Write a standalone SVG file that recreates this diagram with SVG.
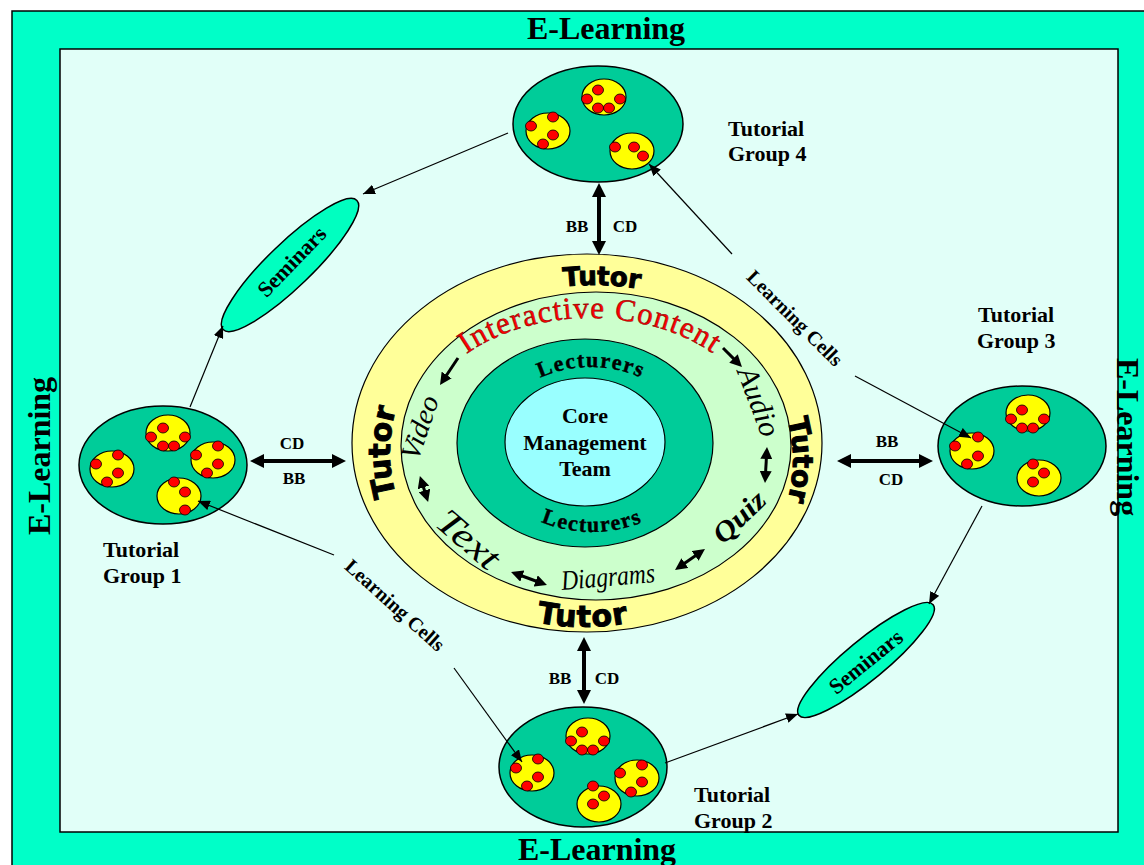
<svg xmlns="http://www.w3.org/2000/svg" width="1144" height="865" viewBox="0 0 1144 865">
<defs>
<style>
.lbl{font-family:"Liberation Serif","Times New Roman",serif;font-weight:bold;font-size:22px;fill:#000;}
.el{font-family:"Liberation Serif","Times New Roman",serif;font-weight:bold;font-size:32px;fill:#000;text-anchor:middle;}
.bc{font-family:"Liberation Serif","Times New Roman",serif;font-weight:bold;font-size:17px;fill:#000;text-anchor:middle;}
.lc{font-family:"Liberation Serif","Times New Roman",serif;font-weight:bold;font-size:20px;fill:#000;text-anchor:middle;}
.sm{font-family:"Liberation Serif","Times New Roman",serif;font-weight:bold;font-size:22px;fill:#000;text-anchor:middle;}
.core{font-family:"Liberation Serif","Times New Roman",serif;font-weight:bold;font-size:22px;fill:#000;text-anchor:middle;}
.grp{fill:#00CC99;stroke:#000;stroke-width:1.5;}
.cell{fill:#FFFF00;stroke:#000;stroke-width:1.2;}
.dot{fill:#FF0000;stroke:#000;stroke-width:0.8;}
.sem{fill:#00FFC0;stroke:#000;stroke-width:1.5;}
.thin{fill:none;stroke:#000;stroke-width:1.2;}
.thick{fill:none;stroke:#000;stroke-width:4;}
.mid{fill:none;stroke:#000;stroke-width:3;}
.tutor{font-family:"DejaVu Sans",sans-serif;font-weight:bold;fill:#000;stroke:#000;stroke-width:1;text-anchor:middle;}
.lect{font-family:"Liberation Serif","Times New Roman",serif;font-weight:bold;font-size:22px;letter-spacing:1.5px;fill:#000;stroke:#000;stroke-width:0.4;text-anchor:middle;}
.script{font-family:"Liberation Serif","Times New Roman",serif;font-style:italic;fill:#000;text-anchor:middle;}
.ic{font-family:"Liberation Serif","Times New Roman",serif;font-size:31px;letter-spacing:1.2px;fill:#FF0000;stroke:#800000;stroke-width:0.5;text-anchor:middle;}
</style>
<ellipse id="dot" class="dot" cx="0" cy="0" rx="5.5" ry="5"/>
<ellipse id="cell" class="cell" cx="0" cy="0" rx="22" ry="18"/>
<marker id="ahThin" viewBox="0 0 12 10" refX="12" refY="5" markerWidth="12" markerHeight="10" markerUnits="userSpaceOnUse" orient="auto-start-reverse"><path d="M0,0 L12,5 L0,10 z" fill="#000"/></marker>
<marker id="ahBig" viewBox="0 0 14 14" refX="4" refY="7" markerWidth="14" markerHeight="14" markerUnits="userSpaceOnUse" orient="auto-start-reverse"><path d="M0,0 L14,7 L0,14 z" fill="#000"/></marker>
<marker id="ahSm" viewBox="0 0 12 12" refX="3" refY="6" markerWidth="12" markerHeight="12" markerUnits="userSpaceOnUse" orient="auto-start-reverse"><path d="M0,0 L12,6 L0,12 z" fill="#000"/></marker>
<path id="pTutTop" d="M383,443 A210,158 0 0,1 803,443"/>
<path id="pTutRight" d="M587,280 A206,180 0 0,1 587,640"/>
<path id="pTutLeft" d="M587,632 A197,180 0 0,1 587,272"/>
<path id="pTutBot" d="M373,443 A210,184 0 0,0 793,443"/>
<path id="pIC" d="M412,446 A178,128 0 0,1 768,446"/>
<path id="pLecTop" d="M493,443 A98,76 0 0,1 689,443"/>
<path id="pLecBot" d="M482,443 A110,89 0 0,0 702,443"/>
</defs>

<g id="frame">
<rect x="12" y="11" width="1160" height="880" fill="#00FFC8" stroke="#000" stroke-width="1.5"/>
<rect x="60" y="49" width="1058" height="783" fill="#E1FFF8" stroke="#000" stroke-width="1.5"/>
<text class="el" x="606" y="39">E-Learning</text>
<text class="el" x="597" y="860">E-Learning</text>
<text class="el" transform="translate(50,456) rotate(-90)">E-Learning</text>
<text class="el" transform="translate(1117,437) rotate(90)">E-Learning</text>
</g>

<g id="center">
<ellipse cx="587" cy="443" rx="235" ry="189" fill="#FFFF99" stroke="#000" stroke-width="1.2"/>
<ellipse cx="596" cy="446" rx="195" ry="154" fill="#CCFFCC" stroke="#000" stroke-width="1.2"/>
<ellipse cx="585" cy="443" rx="128" ry="104" fill="#00CC99" stroke="#000" stroke-width="1.2"/>
<ellipse cx="585" cy="442" rx="80" ry="64" fill="#99FFFF" stroke="#000" stroke-width="1.2"/>
<text class="core" x="585" y="423">Core</text>
<text class="core" x="585" y="450">Management</text>
<text class="core" x="585" y="476">Team</text>
<text class="tutor" font-size="26"><textPath href="#pTutTop" startOffset="51.5%">Tutor</textPath></text>
<text class="tutor" font-size="28"><textPath href="#pTutRight" startOffset="50%">Tutor</textPath></text>
<text class="tutor" font-size="30"><textPath href="#pTutLeft" startOffset="50%">Tutor</textPath></text>
<text class="tutor" font-size="30" letter-spacing="1"><textPath href="#pTutBot" startOffset="50%">Tutor</textPath></text>
<text class="ic"><textPath href="#pIC" startOffset="50%">Interactive Content</textPath></text>
<text class="lect"><textPath href="#pLecTop" startOffset="50%">Lecturers</textPath></text>
<text class="lect"><textPath href="#pLecBot" startOffset="50%">Lecturers</textPath></text>
<text class="script" font-size="28" textLength="66" lengthAdjust="spacingAndGlyphs" transform="translate(421,428) rotate(-71)" y="8">Video</text>
<text class="script" font-size="30" textLength="72" lengthAdjust="spacingAndGlyphs" transform="translate(758,402) rotate(69)" y="9">Audio</text>
<text class="script" font-size="36" textLength="72" lengthAdjust="spacingAndGlyphs" transform="translate(468,540) rotate(41)" y="11">Text</text>
<text class="script" font-size="28" textLength="94" lengthAdjust="spacingAndGlyphs" transform="translate(608,578) rotate(-5)" y="8">Diagrams</text>
<text class="script" font-size="28" font-weight="bold" textLength="62" lengthAdjust="spacingAndGlyphs" transform="translate(740,518) rotate(-44)" y="8">Quiz</text>
<line class="mid" x1="458" y1="358" x2="445" y2="377.5" marker-end="url(#ahSm)"/>
<line class="mid" x1="723" y1="348" x2="735.6" y2="360.6" marker-end="url(#ahSm)"/>
<line class="mid" x1="422.6" y1="484.6" x2="425.4" y2="493.4" marker-start="url(#ahSm)" marker-end="url(#ahSm)"/>
<line class="mid" x1="766.5" y1="456" x2="765.5" y2="474" marker-start="url(#ahSm)" marker-end="url(#ahSm)"/>
<line class="mid" x1="519.5" y1="575" x2="538.5" y2="582" marker-start="url(#ahSm)" marker-end="url(#ahSm)"/>
<line class="mid" x1="682.4" y1="564.8" x2="697.6" y2="554.2" marker-start="url(#ahSm)" marker-end="url(#ahSm)"/>
</g>

<g id="group4">
<ellipse class="grp" cx="598" cy="124" rx="85" ry="58"/>
<use href="#cell" x="604" y="97"/><use href="#cell" x="548" y="131"/><use href="#cell" x="632" y="151"/>
<use href="#dot" x="598" y="90"/><use href="#dot" x="587" y="99"/><use href="#dot" x="620" y="99"/><use href="#dot" x="598" y="108"/><use href="#dot" x="609" y="108"/>
<use href="#dot" x="531" y="126"/><use href="#dot" x="553" y="117"/><use href="#dot" x="553" y="135"/><use href="#dot" x="543" y="144"/>
<use href="#dot" x="615" y="147"/><use href="#dot" x="634" y="147"/><use href="#dot" x="643" y="156"/>
<text class="lbl" x="728" y="136">Tutorial</text>
<text class="lbl" x="728" y="161">Group 4</text>
</g>

<g id="group1">
<ellipse class="grp" cx="163" cy="465" rx="84" ry="59"/>
<use href="#cell" x="168" y="433"/><use href="#cell" x="213" y="460"/><use href="#cell" x="112" y="469"/><use href="#cell" x="179" y="496"/>
<use href="#dot" x="163" y="428"/><use href="#dot" x="151" y="437"/><use href="#dot" x="185" y="437"/><use href="#dot" x="163" y="446"/><use href="#dot" x="174" y="446"/>
<use href="#dot" x="218" y="446"/><use href="#dot" x="196" y="455"/><use href="#dot" x="218" y="464"/><use href="#dot" x="207" y="473"/>
<use href="#dot" x="118" y="455"/><use href="#dot" x="96" y="464"/><use href="#dot" x="118" y="473"/><use href="#dot" x="107" y="482"/>
<use href="#dot" x="174" y="482"/><use href="#dot" x="185" y="492"/><use href="#dot" x="185" y="510"/>
<text class="lbl" x="103" y="557">Tutorial</text>
<text class="lbl" x="103" y="583">Group 1</text>
</g>

<g id="group3">
<ellipse class="grp" cx="1022" cy="446" rx="84" ry="60"/>
<use href="#cell" x="1028" y="413"/><use href="#cell" x="972" y="451"/><use href="#cell" x="1039" y="478"/>
<use href="#dot" x="1022" y="410"/><use href="#dot" x="1011" y="419"/><use href="#dot" x="1044" y="419"/><use href="#dot" x="1022" y="428"/><use href="#dot" x="1033" y="428"/>
<use href="#dot" x="978" y="437"/><use href="#dot" x="955" y="446"/><use href="#dot" x="978" y="456"/><use href="#dot" x="967" y="464"/>
<use href="#dot" x="1033" y="464"/><use href="#dot" x="1044" y="473"/><use href="#dot" x="1033" y="482"/>
<text class="lbl" x="978" y="322">Tutorial</text>
<text class="lbl" x="977" y="348">Group 3</text>
</g>

<g id="group2">
<ellipse class="grp" cx="583" cy="767" rx="84" ry="60"/>
<use href="#cell" x="588" y="736"/><use href="#cell" x="532" y="773"/><use href="#cell" x="599" y="804"/><use href="#cell" x="637" y="778"/>
<use href="#dot" x="582" y="732"/><use href="#dot" x="571" y="741"/><use href="#dot" x="604" y="741"/><use href="#dot" x="582" y="750"/><use href="#dot" x="593" y="750"/>
<use href="#dot" x="538" y="759"/><use href="#dot" x="516" y="768"/><use href="#dot" x="538" y="777"/><use href="#dot" x="527" y="786"/>
<use href="#dot" x="593" y="786"/><use href="#dot" x="604" y="796"/><use href="#dot" x="593" y="804"/>
<use href="#dot" x="642" y="765"/><use href="#dot" x="620" y="773"/><use href="#dot" x="642" y="782"/><use href="#dot" x="631" y="792"/>
<text class="lbl" x="694" y="802">Tutorial</text>
<text class="lbl" x="694" y="828">Group 2</text>
</g>

<g id="seminarsLeft">
<ellipse class="sem" cx="290" cy="265" rx="93" ry="22" transform="rotate(-44 290 265)"/>
<text class="sm" transform="translate(292,262) rotate(-46)" y="7">Seminars</text>
</g>

<g id="seminarsRight">
<ellipse class="sem" cx="866" cy="660" rx="87" ry="20" transform="rotate(-39.5 866 660)"/>
<text class="sm" transform="translate(866,662) rotate(-39)" y="7">Seminars</text>
</g>

<g id="connectors">
<line class="thick" x1="599" y1="193" x2="599" y2="245" marker-start="url(#ahBig)" marker-end="url(#ahBig)"/>
<line class="thick" x1="260" y1="461" x2="336" y2="461" marker-start="url(#ahBig)" marker-end="url(#ahBig)"/>
<line class="thick" x1="847" y1="461" x2="923" y2="461" marker-start="url(#ahBig)" marker-end="url(#ahBig)"/>
<line class="thick" x1="584" y1="647" x2="584" y2="694" marker-start="url(#ahBig)" marker-end="url(#ahBig)"/>
<text class="bc" x="577" y="232">BB</text><text class="bc" x="625" y="232">CD</text>
<text class="bc" x="292" y="449">CD</text><text class="bc" x="294" y="484">BB</text>
<text class="bc" x="887" y="447">BB</text><text class="bc" x="891" y="485">CD</text>
<text class="bc" x="560" y="684">BB</text><text class="bc" x="607" y="684">CD</text>
<line class="thin" x1="508" y1="133" x2="363" y2="194" marker-end="url(#ahThin)"/>
<line class="thin" x1="190" y1="407" x2="223" y2="326" marker-end="url(#ahThin)"/>
<line class="thin" x1="665" y1="763" x2="798" y2="714" marker-end="url(#ahThin)"/>
<line class="thin" x1="982" y1="506" x2="929" y2="604" marker-end="url(#ahThin)"/>
<line class="thin" x1="732" y1="254" x2="649" y2="164" marker-end="url(#ahThin)"/>
<line class="thin" x1="855" y1="376" x2="971" y2="438" marker-end="url(#ahThin)"/>
<text class="lc" transform="translate(795,318) rotate(45)" y="7">Learning Cells</text>
<line class="thin" x1="334" y1="555" x2="198" y2="501" marker-end="url(#ahThin)"/>
<line class="thin" x1="454" y1="668" x2="522" y2="762" marker-end="url(#ahThin)"/>
<text class="lc" transform="translate(395,605) rotate(42)" y="7">Learning Cells</text>
</g>
</svg>
